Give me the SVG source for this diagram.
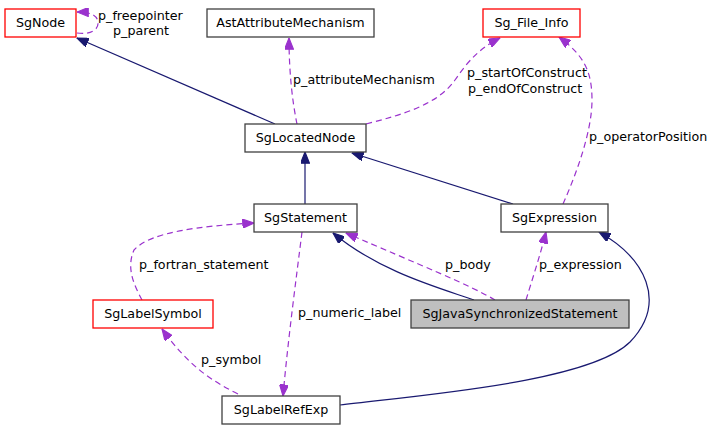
<svg xmlns="http://www.w3.org/2000/svg" width="709" height="429" viewBox="0 0 709 429">
<style>
  .node rect { fill: #ffffff; stroke: #404040; stroke-width: 1.3; }
  .node.red rect { stroke: #ff0000; }
  .node.cur rect { fill: #bfbfbf; }
  text { font-family: "DejaVu Sans", "Liberation Sans", sans-serif; font-size: 12.7px; fill: #000000; }
  .node text { text-anchor: middle; }
  .inh { fill: none; stroke: #191970; stroke-width: 1.2; }
  .use { fill: none; stroke: #9a32cd; stroke-width: 1.2; stroke-dasharray: 6,4; }
</style>
<defs>
  <marker id="ab" viewBox="0 0 10 8" refX="10" refY="4" markerUnits="userSpaceOnUse" markerWidth="12" markerHeight="9" orient="auto">
    <path d="M0,0 L10,4 L0,8 z" fill="#191970" stroke="#191970"/>
  </marker>
  <marker id="ap" viewBox="0 0 10 8" refX="10" refY="4" markerUnits="userSpaceOnUse" markerWidth="12" markerHeight="9" orient="auto">
    <path d="M0,0 L10,4 L0,8 z" fill="#9a32cd" stroke="#9a32cd"/>
  </marker>
</defs>
<rect width="709" height="429" fill="#ffffff"/>
<g id="connectors">
  <!-- inheritance -->
  <path class="inh" d="M275,124 L77,38" marker-end="url(#ab)"/>
  <path class="inh" d="M305,204 L305,152" marker-end="url(#ab)"/>
  <path class="inh" d="M513,204 L352,153" marker-end="url(#ab)"/>
  <path class="inh" d="M474,300 C440,288 380,272 333,233" marker-end="url(#ab)"/>
  <path class="inh" d="M340,405 C420,395 590,382 630,342 C668,302 645,258 599,232" marker-end="url(#ab)"/>
  <!-- usage -->
  <path class="use" d="M77,33 C90,35 99,30 98,22 C97,15 90,12 77,12" marker-end="url(#ap)"/>
  <path class="use" d="M297,124 C292,100 289,70 289,38" marker-end="url(#ap)"/>
  <path class="use" d="M366,124 C405,114 438,104 455,80 C470,58 482,47 500,38" marker-end="url(#ap)"/>
  <path class="use" d="M563,204 C578,170 592,130 592,100 C592,70 583,55 559,37" marker-end="url(#ap)"/>
  <path class="use" d="M495,300 C470,285 420,265 346,233" marker-end="url(#ap)"/>
  <path class="use" d="M526,300 C532,280 540,256 546,232" marker-end="url(#ap)"/>
  <path class="use" d="M142,300 C134,285 126,268 134,250 C150,232 200,226 254,223" marker-end="url(#ap)"/>
  <path class="use" d="M302,232 C296,280 288,340 283,396" marker-end="url(#ap)"/>
  <path class="use" d="M238,394 C210,380 188,365 162,329" marker-end="url(#ap)"/>
  <!-- labels -->
  <text x="98" y="20">p_freepointer</text>
  <text x="113" y="35">p_parent</text>
  <text x="293" y="84">p_attributeMechanism</text>
  <text x="467" y="77">p_startOfConstruct</text>
  <text x="468" y="93">p_endOfConstruct</text>
  <text x="589" y="141">p_operatorPosition</text>
  <text x="445" y="269">p_body</text>
  <text x="539" y="269">p_expression</text>
  <text x="139" y="269">p_fortran_statement</text>
  <text x="298" y="317">p_numeric_label</text>
  <text x="201" y="364">p_symbol</text>
</g>
<g id="SgNode" class="node red"><rect x="5" y="9" width="71" height="28"/><text x="40.5" y="27">SgNode</text></g>
<g id="AstAttributeMechanism" class="node"><rect x="207" y="9" width="167" height="28"/><text x="290.5" y="27">AstAttributeMechanism</text></g>
<g id="Sg_File_Info" class="node red"><rect x="483" y="9" width="97" height="28"/><text x="531.5" y="27">Sg_File_Info</text></g>
<g id="SgLocatedNode" class="node"><rect x="245" y="124" width="121" height="28"/><text x="305.5" y="142">SgLocatedNode</text></g>
<g id="SgStatement" class="node"><rect x="254" y="204" width="103" height="28"/><text x="305.5" y="222">SgStatement</text></g>
<g id="SgExpression" class="node"><rect x="501" y="204" width="107" height="28"/><text x="554.5" y="222">SgExpression</text></g>
<g id="SgLabelSymbol" class="node red"><rect x="93" y="300" width="120" height="28"/><text x="153" y="318">SgLabelSymbol</text></g>
<g id="SgJavaSynchronizedStatement" class="node cur"><rect x="411" y="300" width="218" height="28"/><text x="520" y="318">SgJavaSynchronizedStatement</text></g>
<g id="SgLabelRefExp" class="node"><rect x="222" y="396" width="118" height="28"/><text x="281" y="414">SgLabelRefExp</text></g>
</svg>
